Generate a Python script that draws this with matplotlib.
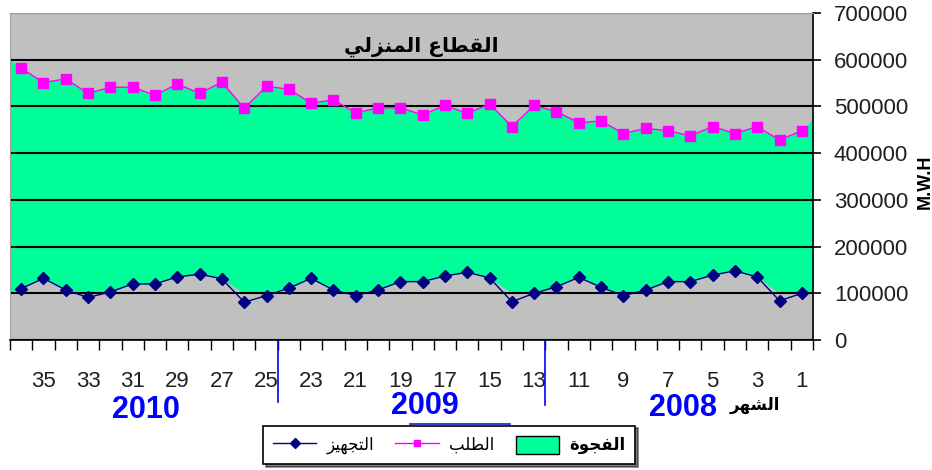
import matplotlib
import matplotlib.pyplot as plt
import matplotlib.transforms as mtransforms
import numpy as np
from matplotlib.lines import Line2D
from matplotlib.patches import Patch

matplotlib.use("Agg")

plt.rcParams["font.family"] = ["Liberation Sans", "DejaVu Sans"]

# months counted backwards: 36 (end of 2010) ... 1 (start of 2008)
months = list(range(36, 0, -1))

# demand (الطلب), MWh
demand = [
    582000, 551000, 559000, 528000, 541000, 541000, 524000, 548000, 528000,
    552000, 496000, 543000, 537000, 507000, 514000, 486000, 497000, 497000,
    482000, 502000, 485000, 505000, 457000, 502000, 489000, 465000, 469000,
    442000, 453000, 448000, 437000, 457000, 442000, 457000, 428000, 448000,
]

# supply (التجهيز), MWh
supply = [
    110000, 132000, 107000, 91000, 103000, 120000, 120000, 135000, 141000,
    131000, 81000, 95000, 111000, 132000, 107000, 95000, 107000, 125000,
    125000, 137000, 145000, 133000, 82000, 100000, 114000, 134000, 113000,
    95000, 107000, 125000, 125000, 139000, 148000, 135000, 84000, 100000,
]

# top of the gap area where it meets the left / right plot edges
demand_edges = [600000, 474000]
gap_floor = 100000

years = ["2010", "2009", "2008"]
year_breaks = [24.5, 12.5]
odd_months = list(range(35, 0, -2))

title = "القطاع المنزلي"
label_supply = "التجهيز"
label_demand = "الطلب"
label_gap = "الفجوة"
label_month = "الشهر"
unit = "M.W.H"

GREEN = "#00FF99"
GREY = "#C0C0C0"
MAGENTA = "#FF00FF"
NAVY = "#000080"
BLUE = "#0000FF"

# Arabic presentation forms: isolated, final, initial, medial
FORMS = {
    "ا": ("\uFE8D", "\uFE8E", None, None),
    "ب": ("\uFE8F", "\uFE90", "\uFE91", "\uFE92"),
    "ة": ("\uFE93", "\uFE94", None, None),
    "ت": ("\uFE95", "\uFE96", "\uFE97", "\uFE98"),
    "ج": ("\uFE9D", "\uFE9E", "\uFE9F", "\uFEA0"),
    "ر": ("\uFEAD", "\uFEAE", None, None),
    "ز": ("\uFEAF", "\uFEB0", None, None),
    "ش": ("\uFEB5", "\uFEB6", "\uFEB7", "\uFEB8"),
    "ط": ("\uFEC1", "\uFEC2", "\uFEC3", "\uFEC4"),
    "ع": ("\uFEC9", "\uFECA", "\uFECB", "\uFECC"),
    "ف": ("\uFED1", "\uFED2", "\uFED3", "\uFED4"),
    "ق": ("\uFED5", "\uFED6", "\uFED7", "\uFED8"),
    "ل": ("\uFEDD", "\uFEDE", "\uFEDF", "\uFEE0"),
    "م": ("\uFEE1", "\uFEE2", "\uFEE3", "\uFEE4"),
    "ن": ("\uFEE5", "\uFEE6", "\uFEE7", "\uFEE8"),
    "ه": ("\uFEE9", "\uFEEA", "\uFEEB", "\uFEEC"),
    "و": ("\uFEED", "\uFEEE", None, None),
    "ي": ("\uFEF1", "\uFEF2", "\uFEF3", "\uFEF4"),
}


def shape(text):
    """Join Arabic letters and put them in visual (right-to-left) order."""
    out = []
    for i, ch in enumerate(text):
        if ch not in FORMS:
            out.append(ch)
            continue
        prev = text[i - 1] if i > 0 else ""
        nxt = text[i + 1] if i + 1 < len(text) else ""
        joins_prev = prev in FORMS and FORMS[prev][2] is not None
        joins_next = nxt in FORMS and FORMS[ch][2] is not None
        iso, fin, ini, med = FORMS[ch]
        if joins_prev and joins_next:
            out.append(med)
        elif joins_prev:
            out.append(fin)
        elif joins_next:
            out.append(ini)
        else:
            out.append(iso)
    return "".join(out)[::-1]


fig = plt.figure(figsize=(9.32, 4.70), dpi=100)
ax = fig.add_axes([10 / 932, 130 / 470, 803 / 932, 327 / 470])
ax.set_facecolor(GREY)

# gap area between demand and supply (cut at the 100000 line like the original)
x_fill = [36.5] + months + [0.5]
top = [demand_edges[0]] + demand + [demand_edges[1]]
bottom = np.maximum([gap_floor] + supply + [gap_floor], gap_floor)
ax.fill_between(x_fill, bottom, top, color=GREEN, lw=0, zorder=1)

ax.plot(months, demand, color=MAGENTA, lw=1, marker="s", ms=6.5,
        mec=MAGENTA, mfc=MAGENTA, zorder=3)
ax.plot(months, supply, color=NAVY, lw=1, marker="D", ms=6,
        mec=NAVY, mfc=NAVY, zorder=3)

ax.set_xlim(36.5, 0.5)
ax.set_ylim(0, 700000)

# y axis on the right
ax.yaxis.tick_right()
ax.set_yticks(range(0, 700001, 100000))
ax.set_yticklabels([str(v) for v in range(0, 700001, 100000)], fontsize=16)
ax.tick_params(axis="y", direction="out", length=6, width=1.2, pad=9,
               colors="black")
for lbl in ax.get_yticklabels():
    lbl.set_color("#202020")
ax.grid(axis="y", color="black", lw=1.5)
ax.set_axisbelow("line")

# x ticks: marks at month boundaries, labels on odd months
ax.set_xticks(np.arange(36.5, 0, -1))
ax.set_xticklabels([])
ax.tick_params(axis="x", which="major", direction="out", length=7,
               width=1, colors="black")
ax.set_xticks(odd_months, minor=True)
ax.set_xticklabels([str(m) for m in odd_months], minor=True, fontsize=16,
                   color="#202020")
ax.tick_params(axis="x", which="minor", length=0, pad=22)

for side in ["top", "left"]:
    ax.spines[side].set_color("#A0A0A0")
ax.spines["bottom"].set_linewidth(1.2)
ax.spines["right"].set_linewidth(1.2)

ax.text(0.5125, 0.897, shape(title), transform=ax.transAxes, ha="center",
        va="center", fontsize=14.5, fontweight="bold", family="DejaVu Sans")

# year separators and year labels under the axis
trans = mtransforms.blended_transform_factory(ax.transData, ax.transAxes)
for xb, y_end in zip(year_breaks, [-0.19, -0.2]):
    ax.plot([xb, xb], [0, y_end], color=BLUE, lw=1.2, transform=trans,
            clip_on=False)
for label, xc, yc in zip(years, [30.4, 17.9, 6.35], [-0.213, -0.201, -0.207]):
    ax.text(xc, yc, label, transform=trans, ha="center", va="center",
            color=BLUE, fontsize=22, fontweight="bold")

fig.text(755 / 932, 1 - 405 / 470, shape(label_month), ha="center",
         va="center", fontsize=12, fontweight="bold", family="DejaVu Sans")
fig.text(925 / 932, 1 - 182 / 470, unit, rotation=90, ha="center",
         va="center", fontsize=13, fontweight="bold")

legend_elements = [
    Line2D([0], [0], color=NAVY, lw=1, marker="D", ms=5,
           label=shape(label_supply)),
    Line2D([0], [0], color=MAGENTA, lw=1, marker="s", ms=5,
           label=shape(label_demand)),
    Patch(facecolor=GREEN, edgecolor="black", label=shape(label_gap)),
]
leg = fig.legend(handles=legend_elements, loc="center", ncol=3,
                 bbox_to_anchor=(449 / 932, 1 - 445 / 470), fontsize=12,
                 frameon=True, fancybox=False, edgecolor="black",
                 handlelength=2.6, handleheight=1.3, handletextpad=0.6,
                 columnspacing=1.3, borderpad=0.6,
                 shadow={"color": "black"})
leg.get_frame().set_linewidth(1.2)
for txt in leg.get_texts():
    txt.set_family("DejaVu Sans")
leg.get_texts()[2].set_fontweight("bold")

# stray blue stroke over the top of the legend box in the original
fig.add_artist(Line2D([410 / 932, 510 / 932], [1 - 424 / 470, 1 - 424 / 470],
                      color="#1818C8", lw=1.2, zorder=10))

plt.savefig("out.png", dpi=100)
plt.close()
